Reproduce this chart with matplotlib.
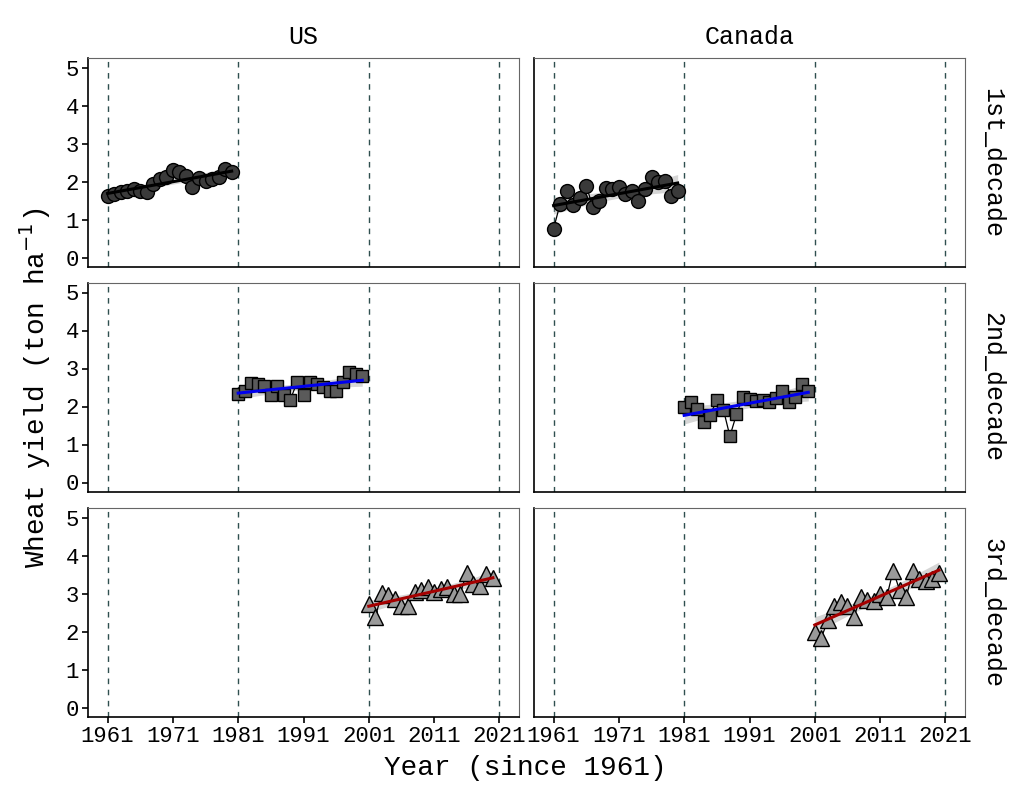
import numpy as np
import matplotlib
matplotlib.use("Agg")
import matplotlib.pyplot as plt

plt.rcParams['font.family'] = ['Liberation Mono', 'DejaVu Sans Mono']

countries = ["US", "Canada"]
decades = ["1st_decade", "2nd_decade", "3rd_decade"]
year_ticks = [1961, 1971, 1981, 1991, 2001, 2011, 2021]
decade_bounds = [1961, 1981, 2001, 2021]

years_1 = list(range(1961, 1981))
years_2 = list(range(1981, 2001))
years_3 = list(range(2001, 2021))

us_1 = [1.63, 1.68, 1.72, 1.74, 1.81, 1.76, 1.72, 1.94, 2.07, 2.11,
        2.29, 2.24, 2.15, 1.85, 2.09, 2.02, 2.07, 2.11, 2.33, 2.26]
us_2 = [2.33, 2.42, 2.61, 2.58, 2.53, 2.29, 2.53, 2.29, 2.18, 2.64,
        2.29, 2.64, 2.58, 2.51, 2.40, 2.40, 2.64, 2.90, 2.86, 2.81]
us_3 = [2.73, 2.38, 3.01, 2.95, 2.86, 2.68, 2.68, 3.03, 3.08, 3.16,
        3.03, 3.12, 3.16, 2.99, 2.99, 3.55, 3.25, 3.21, 3.51, 3.42]
ca_1 = [0.76, 1.41, 1.76, 1.37, 1.56, 1.89, 1.33, 1.50, 1.82, 1.81,
        1.85, 1.68, 1.74, 1.50, 1.81, 2.11, 1.98, 2.02, 1.63, 1.74]
ca_2 = [1.98, 2.12, 1.94, 1.59, 1.77, 2.18, 1.92, 1.22, 1.79, 2.26,
        2.20, 2.14, 2.16, 2.12, 2.23, 2.42, 2.12, 2.25, 2.58, 2.42]
ca_3 = [1.98, 1.84, 2.29, 2.66, 2.77, 2.68, 2.38, 2.90, 2.83, 2.81,
        2.99, 2.90, 3.60, 3.08, 2.90, 3.60, 3.38, 3.34, 3.38, 3.55]

series = {
    ("US", 0): (years_1, us_1), ("US", 1): (years_2, us_2), ("US", 2): (years_3, us_3),
    ("Canada", 0): (years_1, ca_1), ("Canada", 1): (years_2, ca_2), ("Canada", 2): (years_3, ca_3),
}

markers = ["o", "s", "^"]
fills = ["#3a3a3a", "#5a5a5a", "#9a9a9a"]
msizes = [10, 8.5, 11]
fit_colors = ["black", "#0000ee", "#a50000"]

W, H = 1024, 796
fig = plt.figure(figsize=(W / 100, H / 100), dpi=100)

col_x = [88, 534]
row_y = [58, 283, 508]
pw, ph = 431, 209

for ci, country in enumerate(countries):
    for ri in range(3):
        ax = fig.add_axes([col_x[ci] / W, 1 - (row_y[ri] + ph) / H, pw / W, ph / H])
        x = np.array(series[(country, ri)][0], dtype=float)
        y = np.array(series[(country, ri)][1])

        for b in decade_bounds:
            ax.axvline(b, color="#2f4f4f", lw=1.0, ls=(0, (4, 4)), zorder=1)

        # linear fit with 95% band
        slope, icpt = np.polyfit(x, y, 1)
        xs = np.linspace(x.min(), x.max(), 80)
        yhat = icpt + slope * xs
        resid = y - (icpt + slope * x)
        n = len(x)
        s = np.sqrt(np.sum(resid ** 2) / (n - 2))
        se = s * np.sqrt(1 / n + (xs - x.mean()) ** 2 / np.sum((x - x.mean()) ** 2))
        ax.fill_between(xs, yhat - 2.1 * se, yhat + 2.1 * se, color="#999999", alpha=0.4, lw=0, zorder=2)

        ax.plot(x, y, color="black", lw=0.9, zorder=3)
        ax.plot(x, y, ls="none", marker=markers[ri], ms=msizes[ri], mfc=fills[ri],
                mec="black", mew=1.0, zorder=4)
        ax.plot(xs, yhat, color=fit_colors[ri], lw=2.2, zorder=5)

        ax.set_xlim(1958, 2024)
        ax.set_ylim(-0.25, 5.25)
        ax.set_xticks(year_ticks)
        ax.set_yticks(range(6))
        for side in ["top", "right"]:
            ax.spines[side].set_color("#666666")
            ax.spines[side].set_linewidth(0.8)
        for side in ["left", "bottom"]:
            ax.spines[side].set_color("black")
            ax.spines[side].set_linewidth(1.2)
        ax.tick_params(colors="black", labelcolor="black", labelsize=16,
                       length=4.5, width=1.2, pad=2)
        if ci == 0:
            ax.tick_params(axis="y", left=True, labelleft=True)
        else:
            ax.tick_params(axis="y", left=False, labelleft=False)
        if ri == 2:
            ax.tick_params(axis="x", bottom=True, labelbottom=True)
        else:
            ax.tick_params(axis="x", bottom=False, labelbottom=False)

        if ri == 0:
            ax.set_title(country, fontsize=18, pad=10)
        if ci == 1:
            ax.text(1.035, 0.5, decades[ri], transform=ax.transAxes, rotation=270,
                    ha="left", va="center", fontsize=18)

fig.text(35 / W, 1 - 388 / H, "Wheat yield (ton ha$^{-1}$)", rotation=90,
         ha="center", va="center", fontsize=20)
fig.text(525 / W, 1 - 768 / H, "Year (since 1961)", ha="center", va="center", fontsize=20)

fig.savefig("out.png", dpi=100)
